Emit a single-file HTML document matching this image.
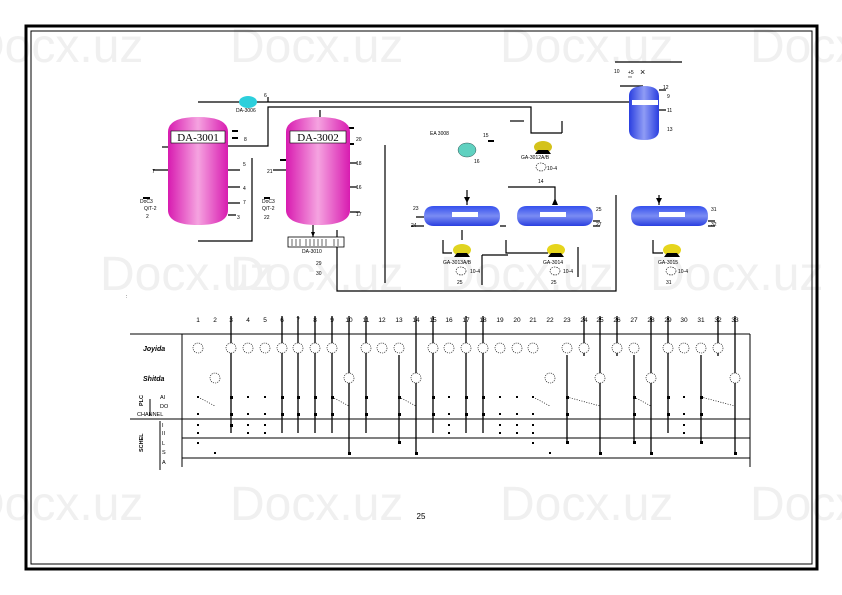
<!DOCTYPE html>
<html><head><meta charset="utf-8"><style>
html,body{margin:0;padding:0;background:#fff;}
svg{display:block;font-family:"Liberation Sans",sans-serif;}
</style></head><body>
<svg width="842" height="595" viewBox="0 0 842 595" xmlns="http://www.w3.org/2000/svg">
<defs>
<linearGradient id="pk" x1="0" x2="1" y1="0" y2="0"><stop offset="0" stop-color="#d81bb0"/><stop offset="0.5" stop-color="#f5a3e0"/><stop offset="1" stop-color="#d81bb0"/></linearGradient>
<linearGradient id="bl" x1="0" x2="1" y1="0" y2="0"><stop offset="0" stop-color="#2a3fe0"/><stop offset="0.5" stop-color="#8f9cf5"/><stop offset="1" stop-color="#2a3fe0"/></linearGradient>
<linearGradient id="bh" x1="0" x2="0" y1="0" y2="1"><stop offset="0" stop-color="#3550ee"/><stop offset="0.5" stop-color="#7a8cf3"/><stop offset="1" stop-color="#2a3fe0"/></linearGradient>
</defs>
<rect x="0" y="0" width="842" height="595" fill="#fff"/>
<g fill="#f0f0f0" font-size="48">
<text x="-30" y="62">Docx.uz</text><text x="230" y="62">Docx.uz</text><text x="500" y="62">Docx.uz</text><text x="750" y="62">Docx.uz</text>
<text x="100" y="290">Docx.uz</text><text x="230" y="290">Docx.uz</text><text x="440" y="290">Docx.uz</text><text x="650" y="290">Docx.uz</text>
<text x="-30" y="520">Docx.uz</text><text x="230" y="520">Docx.uz</text><text x="500" y="520">Docx.uz</text><text x="750" y="520">Docx.uz</text>
</g>
<rect x="26" y="26" width="791" height="543" fill="none" stroke="#000" stroke-width="3"/>
<rect x="31" y="31" width="781" height="533" fill="none" stroke="#000" stroke-width="1"/>

<g stroke="#000" stroke-width="1.2" fill="none">
<path d="M198 102 H630"/>
<path d="M268 97 V102"/>
<path d="M228 146 H268 V107 H531 V133 H562"/>
<path d="M202 146 H168"/>
<path d="M162 147 H168"/>
<path d="M252 158 V241 H198"/>
<path d="M385 145 V283"/>
<path d="M337 230 V291 H616 V195"/>
<path d="M508 187 H555 V205"/>
<path d="M467 190 V205"/>
<path d="M659 195 V205"/>
<path d="M320 117 V110"/>
<path d="M313 225 V238"/>
<path d="M562 121 V133"/>
<path d="M524 121 H510"/>
<path d="M643 86 H620"/>
<path d="M615 62 H682"/>
<path d="M228 170 H240 M228 187 H240 M228 203 H240 M228 215 H236 M153 170 H168 M350 163 H357 M350 187 H357 M350 212 H360 M273 170 H286 M659 90 H666 M659 110 H666 M443 240 V253 H452 M506 240 V253 H548 M653 240 V253 H663 M462 230 V240 M482 255 H508 M482 255 V285 M578 247 V277 M416 217 H424 M500 226 H506 M593 221 H600 M593 226 H600 M708 221 H715 M708 226 H715 M411 226 H424"/>
</g>
<g stroke="#000" stroke-width="2">
<path d="M232 131 H238 M232 138 H238 M346 128 H354 M346 144 H354 M280 160 H286 M264 198 H270 M143 198 H150 M488 141 H494"/>
</g>
<g fill="#000">
<polygon points="464,197 470,197 467,203"/><polygon points="555,198 558,205 552,205"/><polygon points="311,232 315,232 313,237"/>
<polygon points="656,198 662,198 659,204"/>
</g>

<path d="M168 132 Q168 117 198 117 Q228 117 228 132 V210 Q228 225 198 225 Q168 225 168 210Z" fill="url(#pk)"/>
<path d="M286 132 Q286 117 318 117 Q350 117 350 132 V210 Q350 225 318 225 Q286 225 286 210Z" fill="url(#pk)"/>
<rect x="171" y="131" width="54" height="12" fill="#fff" stroke="#000" stroke-width="0.6"/>
<text x="198" y="141" font-family="Liberation Serif,serif" font-size="11" text-anchor="middle">DA-3001</text>
<rect x="290" y="131" width="56" height="12" fill="#fff" stroke="#000" stroke-width="0.6"/>
<text x="318" y="141" font-family="Liberation Serif,serif" font-size="11" text-anchor="middle">DA-3002</text>
<rect x="288" y="237" width="56" height="10" fill="#fff" stroke="#000" stroke-width="0.8"/>
<path d="M292 239 V246 M296 239 V246 M300 239 V246 M306 239 V246 M310 239 V246 M314 239 V246 M318 239 V246 M322 239 V246 M326 239 V246 M334 239 V246 M338 239 V246" stroke="#000" stroke-width="0.6"/>
<ellipse cx="248" cy="102" rx="9" ry="6" fill="#2ccfdc"/>
<path d="M629 96 Q629 86 644 86 Q659 86 659 96 V130 Q659 140 644 140 Q629 140 629 130Z" fill="url(#bl)"/>
<rect x="632" y="100" width="26" height="5" fill="#fff"/>
<path d="M434 206 H490 Q500 206 500 216 Q500 226 490 226 H434 Q424 226 424 216 Q424 206 434 206Z" fill="url(#bh)"/>
<path d="M527 206 H583 Q593 206 593 216 Q593 226 583 226 H527 Q517 226 517 216 Q517 206 527 206Z" fill="url(#bh)"/>
<path d="M641 206 H698 Q708 206 708 216 Q708 226 698 226 H641 Q631 226 631 216 Q631 206 641 206Z" fill="url(#bh)"/>
<rect x="452" y="212" width="26" height="5" fill="#fff"/><rect x="540" y="212" width="26" height="5" fill="#fff"/><rect x="659" y="212" width="26" height="5" fill="#fff"/>
<ellipse cx="467" cy="150" rx="9" ry="7" fill="#5fd1c0" stroke="#355" stroke-width="0.5"/>
<ellipse cx="543" cy="147" rx="9" ry="6" fill="#d4c21a"/>
<ellipse cx="462" cy="250" rx="9" ry="6" fill="#e0d420"/>
<ellipse cx="556" cy="250" rx="9" ry="6" fill="#e6d51c"/>
<ellipse cx="672" cy="250" rx="9" ry="6" fill="#e6d51c"/>
<g fill="#000"><polygon points="535,154 551,154 548,150 538,150"/><polygon points="454,257 470,257 467,253 457,253"/><polygon points="548,257 564,257 561,253 551,253"/><polygon points="664,257 680,257 677,253 667,253"/></g>
<g fill="none" stroke="#000" stroke-width="0.6" stroke-dasharray="1.5 1">
<ellipse cx="541" cy="167" rx="5" ry="4"/><ellipse cx="461" cy="271" rx="5" ry="4"/><ellipse cx="555" cy="271" rx="5" ry="4"/><ellipse cx="671" cy="271" rx="5" ry="4"/>
</g>
<g font-size="5" fill="#000">
<text x="236" y="112">DA-3006</text><text x="264" y="97">6</text><text x="244" y="141">8</text><text x="243" y="166">5</text><text x="243" y="190">4</text><text x="243" y="204">7</text><text x="237" y="219">3</text>
<text x="152" y="173">7</text><text x="140" y="203">DoC3</text><text x="144" y="210">Q/T-2</text><text x="146" y="218">2</text>
<text x="356" y="141">20</text><text x="356" y="165">18</text><text x="356" y="189">16</text><text x="356" y="216">17</text><text x="267" y="173">21</text><text x="262" y="203">DoC3</text><text x="262" y="210">Q/T-2</text><text x="264" y="219">22</text>
<text x="302" y="253">DA-3010</text><text x="316" y="265">29</text><text x="316" y="275">30</text>
<text x="430" y="135">EA 3008</text><text x="483" y="137">15</text><text x="474" y="163">16</text>
<text x="521" y="159">GA-3012A/B</text><text x="547" y="170">10-4</text><text x="538" y="183">14</text>
<text x="614" y="73">10</text><text x="628" y="74">+5</text><text x="628" y="78" font-size="3">XX</text><text x="640" y="75" font-size="9">×</text>
<text x="663" y="89">12</text><text x="667" y="98">9</text><text x="667" y="112">11</text><text x="667" y="131">13</text>
<text x="413" y="210">23</text><text x="411" y="227">24</text><text x="596" y="211">25</text><text x="596" y="226">27</text><text x="711" y="211">31</text><text x="711" y="226">32</text>
<text x="443" y="264">GA-3013A/B</text><text x="470" y="273">10-4</text><text x="457" y="284">25</text>
<text x="543" y="264">GA-3014</text><text x="563" y="273">10-4</text><text x="551" y="284">25</text>
<text x="658" y="264">GA-3015</text><text x="678" y="273">10-4</text><text x="666" y="284">31</text>
<text x="126" y="298">:</text>
</g>

<g stroke="#000" stroke-width="1" fill="none">
<path d="M130 334 H750 M130 419 H750 M182 438 H750 M182 458 H750 M182 334 V467 M150 399 V416 M160 421 V470 M750 334 V467"/>
</g>
<g font-size="6.5" text-anchor="middle" fill="#000">
<text x="198" y="322">1</text><text x="215" y="322">2</text><text x="231" y="322">3</text><text x="248" y="322">4</text><text x="265" y="322">5</text><text x="282" y="322">6</text><text x="298" y="322">7</text><text x="315" y="322">8</text><text x="332" y="322">9</text><text x="349" y="322">10</text><text x="366" y="322">11</text><text x="382" y="322">12</text><text x="399" y="322">13</text><text x="416" y="322">14</text><text x="433" y="322">15</text><text x="449" y="322">16</text><text x="466" y="322">17</text><text x="483" y="322">18</text><text x="500" y="322">19</text><text x="517" y="322">20</text><text x="533" y="322">21</text><text x="550" y="322">22</text><text x="567" y="322">23</text><text x="584" y="322">24</text><text x="600" y="322">25</text><text x="617" y="322">26</text><text x="634" y="322">27</text><text x="651" y="322">28</text><text x="668" y="322">29</text><text x="684" y="322">30</text><text x="701" y="322">31</text><text x="718" y="322">32</text><text x="735" y="322">33</text>
</g>
<g font-size="7" font-weight="bold" font-style="italic" fill="#000">
<text x="143" y="351">Joyida</text><text x="143" y="381">Shitda</text>
</g>
<g font-size="5.5" fill="#000">
<text x="160" y="399">AI</text><text x="160" y="408">DO</text><text x="137" y="416">CHANNEL</text><text x="162" y="427">I</text><text x="162" y="435">II</text><text x="162" y="445">L</text><text x="162" y="454">S</text><text x="162" y="464">A</text>
<text transform="translate(143,406) rotate(-90)" font-weight="bold">PLC</text>
<text transform="translate(143,452) rotate(-90)" font-weight="bold">SCHEL</text>
</g>
<g stroke="#000" stroke-width="1.3">
<path d="M231 316 V433 M282 316 V433 M298 316 V433 M315 316 V433 M332 316 V433 M349 316 V453 M366 316 V433 M399 355 V443 M416 316 V453 M433 316 V433 M466 316 V433 M483 316 V433 M567 355 V443 M584 316 V356 M600 316 V453 M617 316 V356 M634 355 V443 M651 316 V453 M668 316 V433 M701 355 V443 M718 316 V356 M735 316 V453"/>
</g>
<g stroke="#000" stroke-width="0.7" stroke-dasharray="1 1.5">
<path d="M198 397 L215 406 M332 397 L349 406 M399 397 L416 406 M533 397 L550 406 M567 397 L600 406 M634 397 L651 406 M701 397 L735 406"/>
</g>
<g fill="#fff" stroke="#000" stroke-width="0.6" stroke-dasharray="1.2 1">
<circle cx="198" cy="348" r="5"/><circle cx="231" cy="348" r="5"/><circle cx="248" cy="348" r="5"/><circle cx="265" cy="348" r="5"/><circle cx="282" cy="348" r="5"/><circle cx="298" cy="348" r="5"/><circle cx="315" cy="348" r="5"/><circle cx="332" cy="348" r="5"/><circle cx="366" cy="348" r="5"/><circle cx="382" cy="348" r="5"/><circle cx="399" cy="348" r="5"/><circle cx="433" cy="348" r="5"/><circle cx="449" cy="348" r="5"/><circle cx="466" cy="348" r="5"/><circle cx="483" cy="348" r="5"/><circle cx="500" cy="348" r="5"/><circle cx="517" cy="348" r="5"/><circle cx="533" cy="348" r="5"/><circle cx="567" cy="348" r="5"/><circle cx="584" cy="348" r="5"/><circle cx="617" cy="348" r="5"/><circle cx="634" cy="348" r="5"/><circle cx="668" cy="348" r="5"/><circle cx="684" cy="348" r="5"/><circle cx="701" cy="348" r="5"/><circle cx="718" cy="348" r="5"/>
<circle cx="215" cy="378" r="5"/><circle cx="349" cy="378" r="5"/><circle cx="416" cy="378" r="5"/><circle cx="550" cy="378" r="5"/><circle cx="600" cy="378" r="5"/><circle cx="651" cy="378" r="5"/><circle cx="735" cy="378" r="5"/>
</g>
<g fill="#000">
<rect x="197" y="396" width="2" height="2"/><rect x="197" y="413" width="2" height="2"/><rect x="197" y="424" width="2" height="2"/><rect x="197" y="432" width="2" height="2"/><rect x="197" y="442" width="2" height="2"/><rect x="214" y="452" width="2" height="2"/>
<rect x="230" y="396" width="3" height="3"/><rect x="230" y="413" width="3" height="3"/><rect x="230" y="424" width="3" height="3"/>
<rect x="247" y="396" width="2" height="2"/><rect x="247" y="413" width="2" height="2"/><rect x="247" y="424" width="2" height="2"/><rect x="247" y="432" width="2" height="2"/>
<rect x="264" y="396" width="2" height="2"/><rect x="264" y="413" width="2" height="2"/><rect x="264" y="424" width="2" height="2"/><rect x="264" y="432" width="2" height="2"/>
<rect x="281" y="396" width="3" height="3"/><rect x="297" y="396" width="3" height="3"/><rect x="314" y="396" width="3" height="3"/><rect x="331" y="396" width="3" height="3"/>
<rect x="281" y="413" width="3" height="3"/><rect x="297" y="413" width="3" height="3"/><rect x="314" y="413" width="3" height="3"/><rect x="331" y="413" width="3" height="3"/>
<rect x="365" y="396" width="3" height="3"/><rect x="365" y="413" width="3" height="3"/><rect x="398" y="396" width="3" height="3"/><rect x="398" y="413" width="3" height="3"/><rect x="398" y="441" width="3" height="3"/>
<rect x="432" y="396" width="3" height="3"/><rect x="432" y="413" width="3" height="3"/>
<rect x="448" y="396" width="2" height="2"/><rect x="448" y="413" width="2" height="2"/><rect x="448" y="424" width="2" height="2"/><rect x="448" y="432" width="2" height="2"/>
<rect x="465" y="396" width="3" height="3"/><rect x="465" y="413" width="3" height="3"/><rect x="482" y="396" width="3" height="3"/><rect x="482" y="413" width="3" height="3"/>
<rect x="499" y="396" width="2" height="2"/><rect x="499" y="413" width="2" height="2"/><rect x="499" y="424" width="2" height="2"/><rect x="499" y="432" width="2" height="2"/>
<rect x="516" y="396" width="2" height="2"/><rect x="516" y="413" width="2" height="2"/><rect x="516" y="424" width="2" height="2"/><rect x="516" y="432" width="2" height="2"/>
<rect x="532" y="396" width="2" height="2"/><rect x="532" y="413" width="2" height="2"/><rect x="532" y="424" width="2" height="2"/><rect x="532" y="432" width="2" height="2"/><rect x="532" y="442" width="2" height="2"/><rect x="549" y="452" width="2" height="2"/>
<rect x="566" y="396" width="3" height="3"/><rect x="566" y="413" width="3" height="3"/><rect x="566" y="441" width="3" height="3"/>
<rect x="633" y="396" width="3" height="3"/><rect x="633" y="413" width="3" height="3"/><rect x="633" y="441" width="3" height="3"/>
<rect x="667" y="396" width="3" height="3"/><rect x="667" y="413" width="3" height="3"/>
<rect x="683" y="396" width="2" height="2"/><rect x="683" y="413" width="2" height="2"/><rect x="683" y="424" width="2" height="2"/><rect x="683" y="432" width="2" height="2"/>
<rect x="700" y="396" width="3" height="3"/><rect x="700" y="413" width="3" height="3"/><rect x="700" y="441" width="3" height="3"/>
<rect x="348" y="452" width="3" height="3"/><rect x="415" y="452" width="3" height="3"/><rect x="599" y="452" width="3" height="3"/><rect x="650" y="452" width="3" height="3"/><rect x="734" y="452" width="3" height="3"/>
</g>
<text x="421" y="519" font-size="8" text-anchor="middle">25</text>
</svg>
</body></html>
